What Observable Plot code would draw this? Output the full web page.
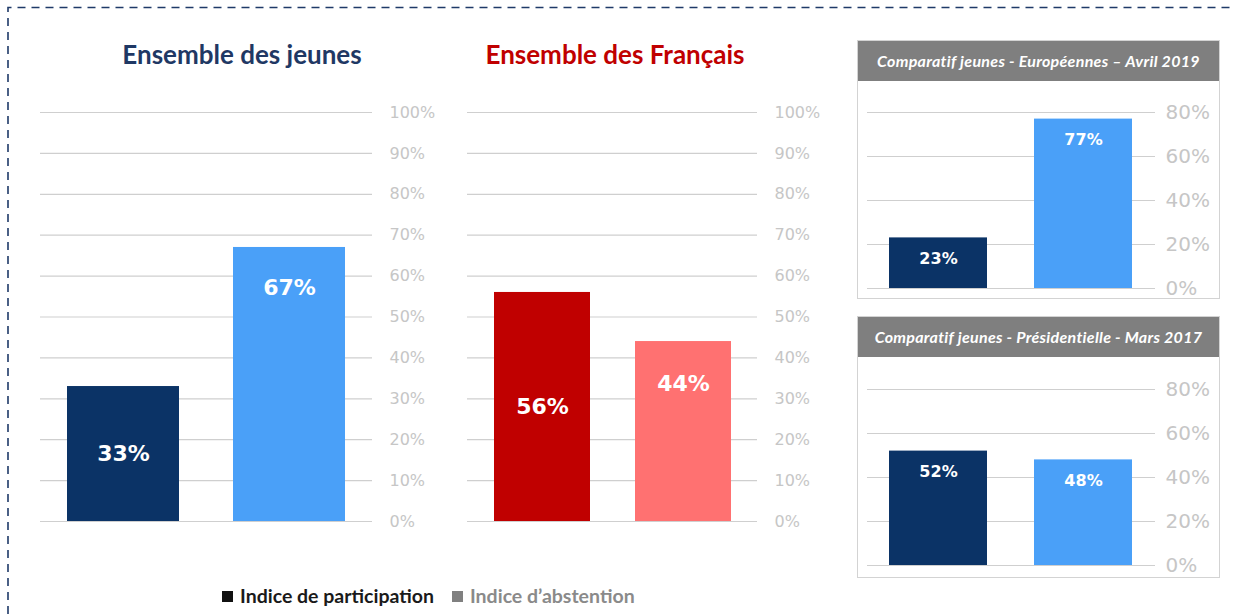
<!DOCTYPE html>
<html>
<head>
<meta charset="utf-8">
<script src="https://cdn.jsdelivr.net/npm/d3@7"></script>
<script src="https://cdn.jsdelivr.net/npm/@observablehq/plot@0.6"></script>
<style>
  html, body { margin: 0; padding: 0; background: #fff; }
  #root { position: relative; width: 1238px; height: 614px; overflow: hidden; background: #fff; font-family: Lato, "Open Sans", sans-serif; }
  .abs { position: absolute; }
  .title { font-weight: 700; font-size: 26px; text-align: center; white-space: nowrap; }
  .box { border: 1px solid #d3d3d3; box-sizing: border-box; background: #fff; }
  .hdr { background: #7f7f7f; color: #fff; font-style: italic; font-weight: 700; font-size: 16px; height: 40px; line-height: 40px; text-align: center; white-space: nowrap; letter-spacing: 0.3px; }
  .legend { font-weight: 700; font-size: 19.5px; white-space: nowrap; }
  .legend span.sq { display: inline-block; width: 11px; height: 11px; margin-right: 7px; vertical-align: 1px; }
</style>
</head>
<body>
<div id="root"></div>
<script>
// ---------- data ----------
const categories = ["Indice de participation", "Indice d’abstention"];
const jeunesValues = [33, 67];
const francaisValues = [56, 44];
const europeennes2019Values = [23, 77];
const presidentielle2017Values = [52, 48];
const ticksMain = [0, 10, 20, 30, 40, 50, 60, 70, 80, 90, 100];
const ticksSmall = [0, 20, 40, 60, 80];
const titleJeunes = "Ensemble des jeunes";
const titleFrancais = "Ensemble des Français";
const titleEuro = "Comparatif jeunes - Européennes – Avril 2019";
const titlePres = "Comparatif jeunes - Présidentielle - Mars 2017";

const navy = "#0b3366", blue = "#4aa0f8", red = "#c00000", pink = "#ff7171";

const root = document.getElementById("root");

function place(el, left, top) {
  el.classList.add("abs");
  el.style.left = left + "px";
  el.style.top = top + "px";
  root.appendChild(el);
  return el;
}

function panel({values, colors, ticks, yMax, frameW, frameH, marginRight, marginTop, marginBottom,
                paddingInner, paddingOuter, tickFont, tickPad, labelFont, mode, topOffset}) {
  const rows = categories.map((c, i) => ({cat: c, value: values[i], idx: i}));
  const marks = [
    Plot.gridY(ticks, {stroke: "#cfcfcf", strokeOpacity: 1, strokeWidth: 1.2}),
    Plot.barY(rows, {x: "cat", y: "value", fill: "cat"}),
    Plot.axisY(ticks, {anchor: "right", label: null, tickSize: 0, tickPadding: tickPad, tickFormat: d => d + "%",
                       fontSize: tickFont, fill: "#c6c6c6", textAnchor: "start"})
  ];
  const txt = {fill: "white", fontWeight: "bold", fontSize: labelFont, fontFamily: "DejaVu Sans", text: d => d.value + "%"};
  if (mode === "left") {
    marks.push(Plot.text(rows.filter(d => d.idx === 0), {x: "cat", y: d => d.value / 2, ...txt}));
    marks.push(Plot.text(rows.filter(d => d.idx === 1), {x: "cat", y: "value", dy: topOffset, ...txt}));
  } else {
    marks.push(Plot.text(rows, {x: "cat", y: "value", dy: topOffset, ...txt}));
  }
  return Plot.plot({
    width: frameW + marginRight,
    height: frameH + marginTop + marginBottom,
    marginLeft: 0, marginRight, marginTop, marginBottom,
    style: {fontFamily: "DejaVu Sans", background: "transparent", overflow: "visible"},
    x: {domain: categories, axis: null, paddingInner, paddingOuter},
    y: {domain: [0, yMax], axis: null},
    color: {domain: categories, range: colors},
    marks
  });
}

// outer dashed frame (top + left)
const ns = "http://www.w3.org/2000/svg";
const frame = document.createElementNS(ns, "svg");
frame.setAttribute("width", 1238); frame.setAttribute("height", 614);
frame.style.position = "absolute"; frame.style.left = "0"; frame.style.top = "0";
frame.innerHTML = `<path d="M8,614 L8,7.5 L1234,7.5" fill="none" stroke="#1f3a68" stroke-width="1.6" stroke-dasharray="8 6"/>`;
root.appendChild(frame);

// titles
const t1 = document.createElement("div"); t1.className = "title"; t1.textContent = titleJeunes;
t1.style.color = "#1f3864"; t1.style.width = "340px"; place(t1, 72, 38);
const t2 = document.createElement("div"); t2.className = "title"; t2.textContent = titleFrancais;
t2.style.color = "#c00000"; t2.style.width = "340px"; place(t2, 445, 38);

// main panels
place(panel({values: jeunesValues, colors: [navy, blue], ticks: ticksMain, yMax: 100,
  frameW: 332, frameH: 409, marginRight: 80, marginTop: 12, marginBottom: 12,
  paddingInner: 0.325, paddingOuter: 0.1625, tickFont: 16, tickPad: 17, labelFont: 22,
  mode: "left", topOffset: 40}), 40, 100);

place(panel({values: francaisValues, colors: [red, pink], ticks: ticksMain, yMax: 100,
  frameW: 290, frameH: 409, marginRight: 80, marginTop: 12, marginBottom: 12,
  paddingInner: 0.32, paddingOuter: 0.185, tickFont: 16, tickPad: 17, labelFont: 22,
  mode: "left", topOffset: 42}), 467, 100);

// right boxes
function box(top, height, title) {
  const b = document.createElement("div"); b.className = "box";
  b.style.width = "363px"; b.style.height = height + "px";
  const h = document.createElement("div"); h.className = "hdr"; h.textContent = title;
  b.appendChild(h);
  place(b, 857, top);
}
box(40, 259, titleEuro);
box(316, 262, titlePres);

place(panel({values: europeennes2019Values, colors: [navy, blue], ticks: ticksSmall, yMax: 80,
  frameW: 288, frameH: 176, marginRight: 62, marginTop: 12, marginBottom: 8,
  paddingInner: 0.324, paddingOuter: 0.155, tickFont: 20, tickPad: 10, labelFont: 16,
  mode: "top", topOffset: 21}), 867, 100);

place(panel({values: presidentielle2017Values, colors: [navy, blue], ticks: ticksSmall, yMax: 80,
  frameW: 288, frameH: 176, marginRight: 62, marginTop: 12, marginBottom: 8,
  paddingInner: 0.324, paddingOuter: 0.155, tickFont: 20, tickPad: 10, labelFont: 16,
  mode: "top", topOffset: 21}), 867, 377);

// legend
const lg = document.createElement("div"); lg.className = "legend";
lg.innerHTML = `<span class="sq" style="background:#111"></span><span style="color:#1a1a1a">${categories[0]}</span>` +
  `<span style="display:inline-block;width:18px"></span>` +
  `<span class="sq" style="background:#808080"></span><span style="color:#8a8a8a">${categories[1]}</span>`;
place(lg, 222, 584);
</script>
</body>
</html>
